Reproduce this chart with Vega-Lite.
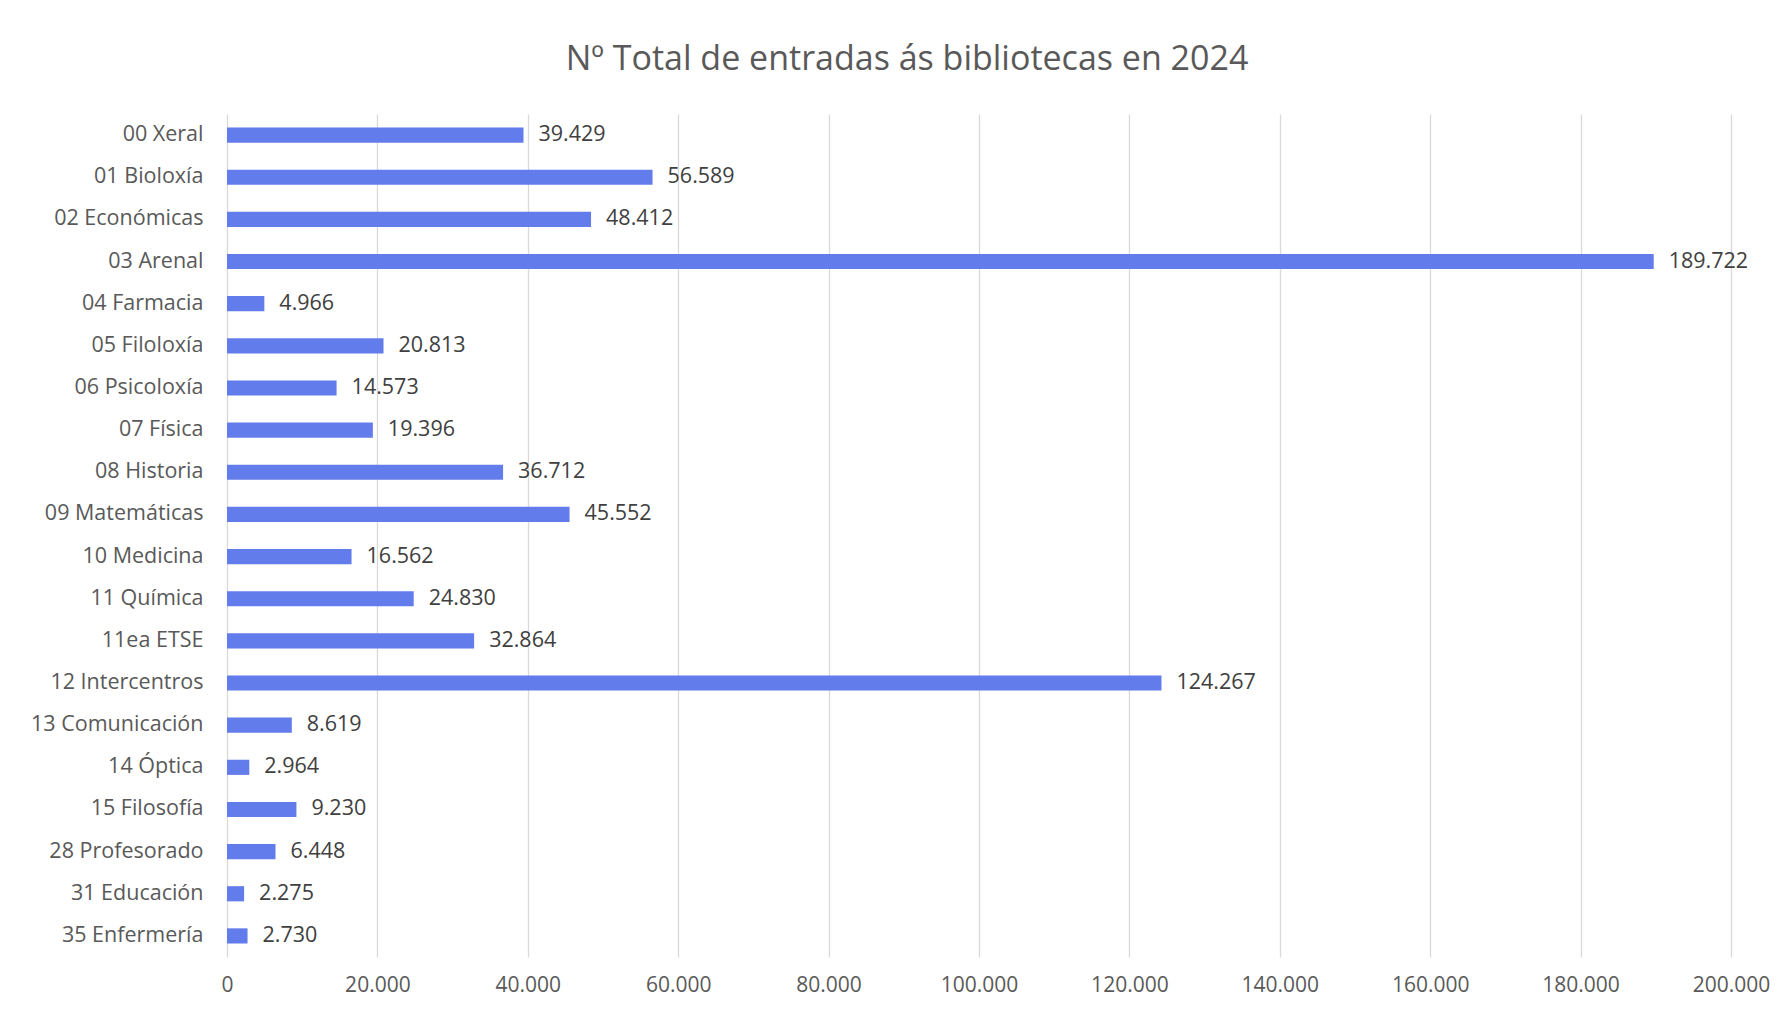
{
  "$schema": "https://vega.github.io/schema/vega-lite/v6.json",
  "autosize": {"type": "none"},
  "padding": {"left": 227, "top": 114, "right": 56, "bottom": 55},
  "width": 1504,
  "height": 843,
  "background": "white",
  "config": {
    "locale": {"number": {"decimal": ",", "thousands": ".", "grouping": [3], "currency": ["", " €"]}},
    "view": {"stroke": null},
    "font": "Open Sans"
  },
  "title": {
    "text": "Nº Total de entradas ás bibliotecas en 2024",
    "font": "Open Sans",
    "fontSize": 34,
    "fontWeight": "normal",
    "color": "#595959",
    "anchor": "middle",
    "frame": "group",
    "dx": -72,
    "baseline": "alphabetic",
    "offset": 10.5
  },
  "data": {
    "values": [
      {"biblioteca": "00 Xeral", "entradas": 39429},
      {"biblioteca": "01 Bioloxía", "entradas": 56589},
      {"biblioteca": "02 Económicas", "entradas": 48412},
      {"biblioteca": "03 Arenal", "entradas": 189722},
      {"biblioteca": "04 Farmacia", "entradas": 4966},
      {"biblioteca": "05 Filoloxía", "entradas": 20813},
      {"biblioteca": "06 Psicoloxía", "entradas": 14573},
      {"biblioteca": "07 Física", "entradas": 19396},
      {"biblioteca": "08 Historia", "entradas": 36712},
      {"biblioteca": "09 Matemáticas", "entradas": 45552},
      {"biblioteca": "10 Medicina", "entradas": 16562},
      {"biblioteca": "11 Química", "entradas": 24830},
      {"biblioteca": "11ea ETSE", "entradas": 32864},
      {"biblioteca": "12 Intercentros", "entradas": 124267},
      {"biblioteca": "13 Comunicación", "entradas": 8619},
      {"biblioteca": "14 Óptica", "entradas": 2964},
      {"biblioteca": "15 Filosofía", "entradas": 9230},
      {"biblioteca": "28 Profesorado", "entradas": 6448},
      {"biblioteca": "31 Educación", "entradas": 2275},
      {"biblioteca": "35 Enfermería", "entradas": 2730}
    ]
  },
  "encoding": {
    "y": {
      "field": "biblioteca",
      "type": "nominal",
      "sort": null,
      "title": null,
      "scale": {"paddingInner": 0.64, "paddingOuter": 0.32},
      "axis": {
        "domain": false,
        "ticks": false,
        "tickSize": 0,
        "grid": false,
        "labelPadding": 24,
        "labelFont": "Open Sans",
        "labelFontSize": 21.5,
        "labelColor": "#595959"
      }
    },
    "x": {
      "field": "entradas",
      "type": "quantitative",
      "title": null,
      "scale": {"domain": [0, 200000], "nice": false},
      "axis": {
        "values": [0, 20000, 40000, 60000, 80000, 100000, 120000, 140000, 160000, 180000, 200000],
        "format": ",d",
        "domain": false,
        "ticks": false,
        "tickSize": 0,
        "grid": true,
        "gridColor": "#d9d9d9",
        "gridWidth": 1.3,
        "labelFlush": false,
        "labelOverlap": false,
        "labelPadding": 17,
        "labelFont": "Open Sans",
        "labelFontSize": 21,
        "labelColor": "#595959"
      }
    }
  },
  "layer": [
    {"mark": {"type": "bar", "color": "#637cec"}},
    {
      "mark": {"type": "text", "align": "left", "baseline": "middle", "dx": 15, "font": "Open Sans", "fontSize": 21.5, "color": "#404040"},
      "encoding": {"text": {"field": "entradas", "type": "quantitative", "format": ",d"}}
    }
  ]
}
